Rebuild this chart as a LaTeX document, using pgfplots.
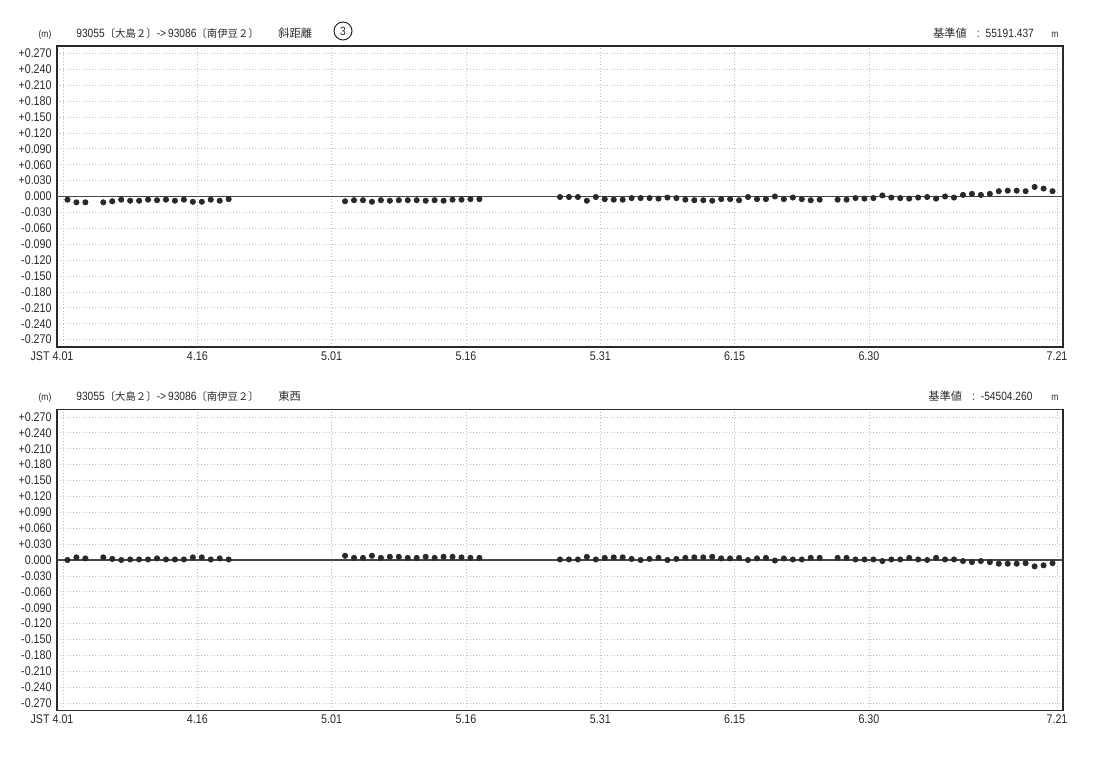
\documentclass[border=0pt]{standalone}
\usepackage{fontspec}
\setmainfont[FakeStretch=0.85]{Liberation Sans}
\newfontfamily\jp{Noto Sans CJK JP}
\usepackage{pgfplots}
\pgfplotsset{compat=1.18}
\usepackage{pgfplotstable}

\definecolor{ink}{gray}{0.16}

% x = days since 4.01 (dot drawn at mid-day), y = deviation in m
\pgfplotstableread{
x y
0.5 -0.006
1.5 -0.011
2.5 -0.011
4.5 -0.011
5.5 -0.009
6.5 -0.006
7.5 -0.008
8.5 -0.008
9.5 -0.006
10.5 -0.007
11.5 -0.006
12.5 -0.008
13.5 -0.006
14.5 -0.010
15.5 -0.010
16.5 -0.006
17.5 -0.008
18.5 -0.005
31.5 -0.009
32.5 -0.007
33.5 -0.007
34.5 -0.010
35.5 -0.007
36.5 -0.008
37.5 -0.007
38.5 -0.007
39.5 -0.007
40.5 -0.008
41.5 -0.007
42.5 -0.008
43.5 -0.006
44.5 -0.006
45.5 -0.005
46.5 -0.005
55.5 -0.001
56.5 -0.001
57.5 -0.001
58.5 -0.008
59.5 -0.001
60.5 -0.005
61.5 -0.006
62.5 -0.006
63.5 -0.003
64.5 -0.003
65.5 -0.003
66.5 -0.004
67.5 -0.002
68.5 -0.003
69.5 -0.006
70.5 -0.007
71.5 -0.007
72.5 -0.008
73.5 -0.005
74.5 -0.005
75.5 -0.007
76.5 -0.001
77.5 -0.005
78.5 -0.005
79.5 0.000
80.5 -0.005
81.5 -0.002
82.5 -0.005
83.5 -0.007
84.5 -0.006
86.5 -0.006
87.5 -0.006
88.5 -0.003
89.5 -0.004
90.5 -0.003
91.5 0.002
92.5 -0.002
93.5 -0.003
94.5 -0.004
95.5 -0.002
96.5 -0.001
97.5 -0.004
98.5 0.000
99.5 -0.002
100.5 0.003
101.5 0.005
102.5 0.003
103.5 0.005
104.5 0.010
105.5 0.011
106.5 0.011
107.5 0.010
108.5 0.018
109.5 0.015
110.5 0.010
}\topdata

\pgfplotstableread{
x y
0.5 0.000
1.5 0.005
2.5 0.003
4.5 0.005
5.5 0.002
6.5 0.000
7.5 0.001
8.5 0.001
9.5 0.001
10.5 0.003
11.5 0.001
12.5 0.001
13.5 0.001
14.5 0.005
15.5 0.005
16.5 0.001
17.5 0.003
18.5 0.001
31.5 0.008
32.5 0.004
33.5 0.004
34.5 0.008
35.5 0.004
36.5 0.006
37.5 0.006
38.5 0.004
39.5 0.004
40.5 0.006
41.5 0.004
42.5 0.006
43.5 0.006
44.5 0.005
45.5 0.004
46.5 0.004
55.5 0.001
56.5 0.001
57.5 0.001
58.5 0.006
59.5 0.001
60.5 0.004
61.5 0.005
62.5 0.005
63.5 0.002
64.5 0.000
65.5 0.002
66.5 0.004
67.5 0.000
68.5 0.002
69.5 0.004
70.5 0.005
71.5 0.005
72.5 0.006
73.5 0.003
74.5 0.003
75.5 0.004
76.5 0.000
77.5 0.003
78.5 0.004
79.5 -0.001
80.5 0.003
81.5 0.001
82.5 0.001
83.5 0.004
84.5 0.004
86.5 0.004
87.5 0.004
88.5 0.001
89.5 0.001
90.5 0.001
91.5 -0.002
92.5 0.001
93.5 0.001
94.5 0.004
95.5 0.001
96.5 0.000
97.5 0.004
98.5 0.001
99.5 0.001
100.5 -0.002
101.5 -0.004
102.5 -0.002
103.5 -0.004
104.5 -0.007
105.5 -0.007
106.5 -0.007
107.5 -0.006
108.5 -0.012
109.5 -0.010
110.5 -0.006
}\botdata

\pgfplotsset{
  panel/.style={
    scale only axis, width=502.85pt, height=150.5pt,
    xmin=-0.67, xmax=111.64, ymin=-0.284, ymax=0.284,
    xtick={0,15,30,45,60,75,90,111},
    xticklabels={\llap{JST }4.01,4.16,5.01,5.16,5.31,6.15,6.30,7.21},
    ytick={-0.27,-0.24,-0.21,-0.18,-0.15,-0.12,-0.09,-0.06,-0.03,0,0.03,0.06,0.09,0.12,0.15,0.18,0.21,0.24,0.27},
    yticklabels={-0.270,-0.240,-0.210,-0.180,-0.150,-0.120,-0.090,-0.060,-0.030,0.000,+0.030,+0.060,+0.090,+0.120,+0.150,+0.180,+0.210,+0.240,+0.270},
    major tick length=0pt,
    grid=major,
    major grid style={line width=0.35pt, gray!50, dash pattern=on 0.5pt off 1.1pt},
    axis line style={line width=0.85pt, ink},
    tick label style={font=\fontsize{6.3}{7}\selectfont, text=ink},
    yticklabel style={inner sep=0pt, xshift=-2.5pt},
    xticklabel style={inner sep=0pt, yshift=-2pt},
  }
}

\begin{document}
\begin{tikzpicture}
\useasboundingbox (0,0) rectangle (547.5pt,380pt);

% ---------- top panel ----------
\begin{axis}[panel, at={(28.5pt,206.5pt)}, anchor=south west]
  \addplot[gray!55!black, line width=0.6pt] coordinates {(-0.67,0) (111.64,0)};
  \addplot[only marks, mark=*, mark size=1.3pt, mark options={fill=ink, draw=ink}] table {\topdata};
\end{axis}

% ---------- bottom panel ----------
\begin{axis}[panel, at={(28.5pt,24.75pt)}, anchor=south west]
  \addplot[gray!55!black, line width=0.6pt] coordinates {(-0.67,0) (111.64,0)};
  \addplot[only marks, mark=*, mark size=1.3pt, mark options={fill=ink, draw=ink}] table {\botdata};
\end{axis}

% ---------- headers ----------
\begin{scope}[every node/.style={text=ink, inner sep=0pt, font=\fontsize{6}{7}\selectfont}]
  \node[anchor=base] at (22.5pt,361pt) {\fontsize{5}{6}\selectfont(m)};
  \node[anchor=base west] at (38pt,361pt) {93055{\jp\fontsize{5.2}{6}\selectfont 〔大島２〕}->\,93086{\jp\fontsize{5.2}{6}\selectfont 〔南伊豆２〕}};
  \node[anchor=base west] at (139pt,361pt) {\jp\fontsize{5.6}{6}\selectfont 斜距離};
  \node[draw=ink, circle, line width=0.5pt, minimum size=9pt, inner sep=0pt] at (171.5pt,364.5pt) {3};
  \node[anchor=base west] at (466.4pt,361pt) {{\jp\fontsize{5.6}{6}\selectfont 基準値}\hspace{5pt}:\hspace{3pt}55191.437};
  \node[anchor=base] at (527.5pt,361pt) {\fontsize{5}{6}\selectfont m};

  \node[anchor=base] at (22.5pt,179.5pt) {\fontsize{5}{6}\selectfont(m)};
  \node[anchor=base west] at (38pt,179.5pt) {93055{\jp\fontsize{5.2}{6}\selectfont 〔大島２〕}->\,93086{\jp\fontsize{5.2}{6}\selectfont 〔南伊豆２〕}};
  \node[anchor=base west] at (139pt,179.5pt) {\jp\fontsize{5.6}{6}\selectfont 東西};
  \node[anchor=base west] at (464pt,179.5pt) {{\jp\fontsize{5.6}{6}\selectfont 基準値}\hspace{5pt}:\hspace{3pt}-54504.260};
  \node[anchor=base] at (527.5pt,179.5pt) {\fontsize{5}{6}\selectfont m};
\end{scope}
\end{tikzpicture}
\end{document}
